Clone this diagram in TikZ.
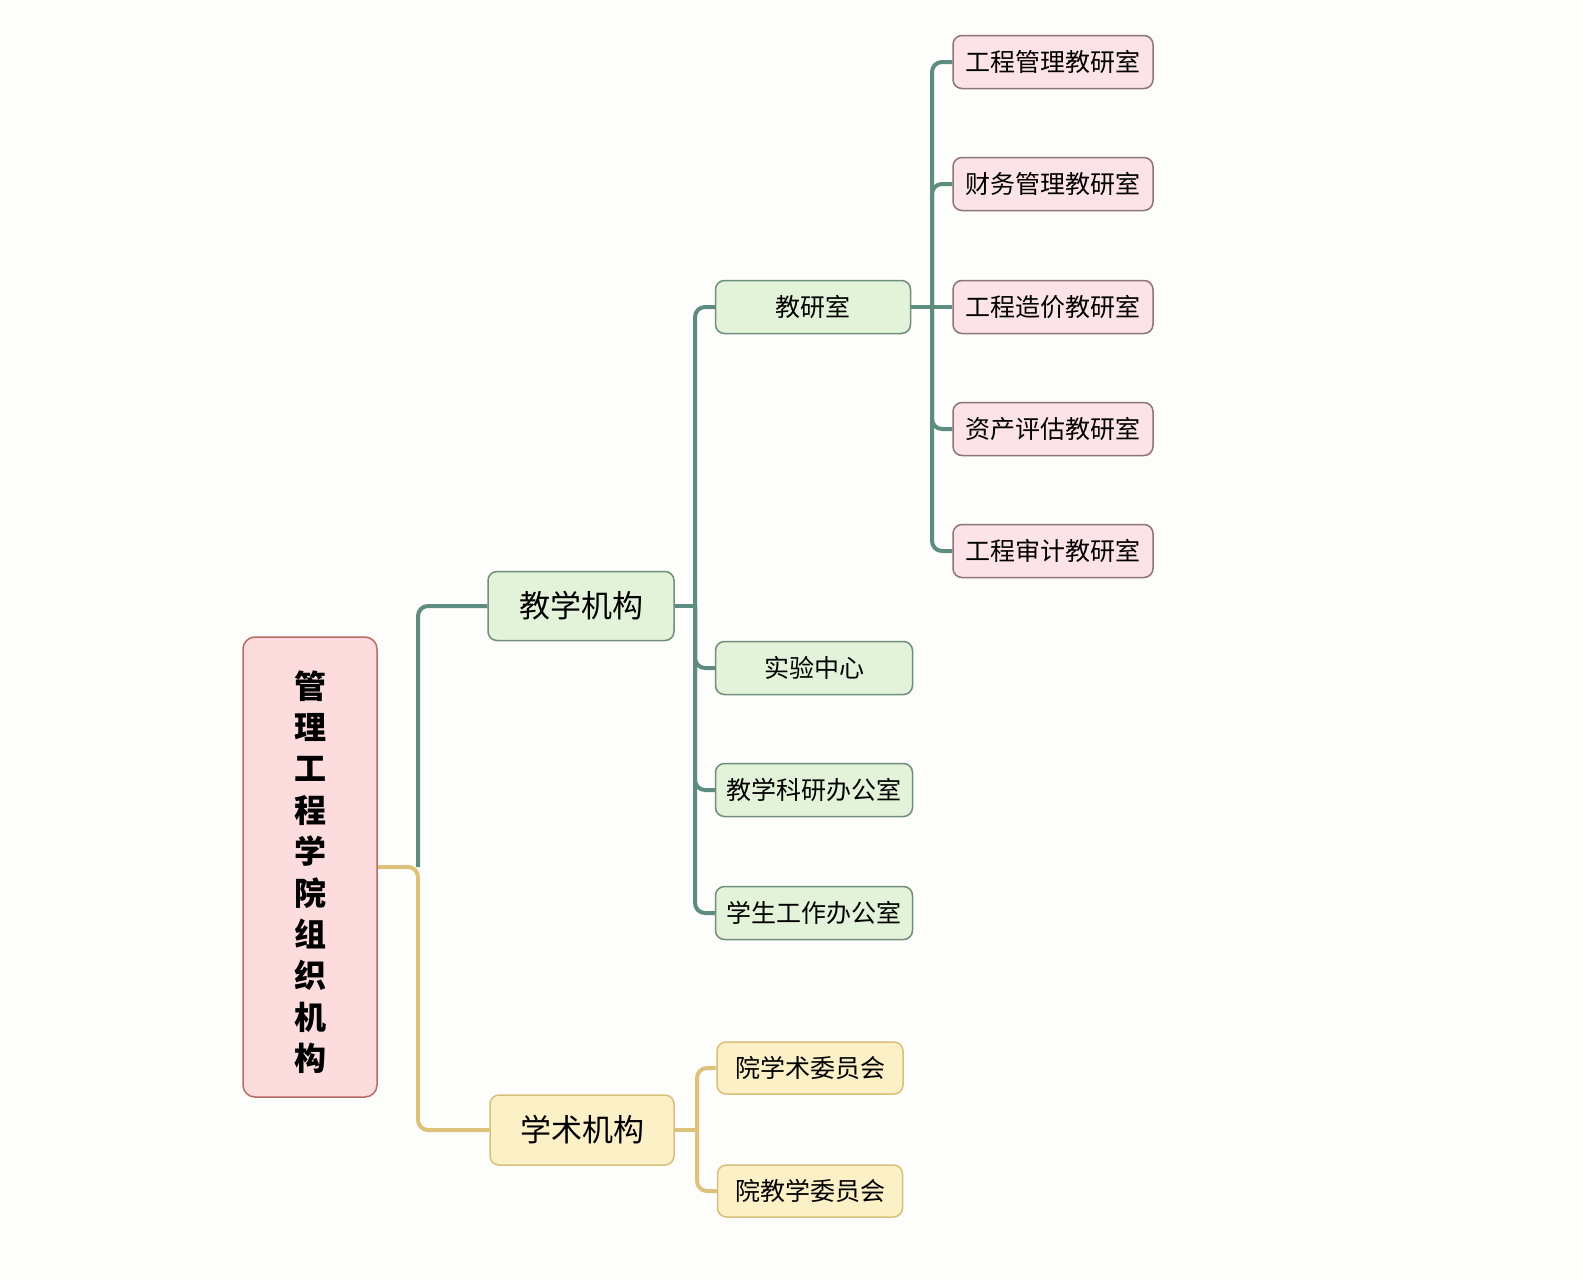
\documentclass[tikz,border=0pt]{standalone}
\usepackage{fontspec}
\setmainfont{Noto Sans CJK SC}
\definecolor{gfill}{HTML}{E3F3DA}
\definecolor{gdraw}{HTML}{6F8E7C}
\definecolor{pfill}{HTML}{FCE3E7}
\definecolor{pdraw}{HTML}{8C7478}
\definecolor{rfill}{HTML}{FCDCDC}
\definecolor{rdraw}{HTML}{B86A66}
\definecolor{yfill}{HTML}{FBF0C6}
\definecolor{ydraw}{HTML}{D8C07C}
\definecolor{gline}{HTML}{5F8C80}
\definecolor{yline}{HTML}{DCC27A}
\definecolor{bg}{HTML}{FDFDFB}
\begin{document}
\begin{tikzpicture}[x=1pt,y=-1pt,
  box/.style={draw, rounded corners=9pt, line width=1.5pt, inner sep=0pt, minimum height=53pt, anchor=center, font=\fontsize{25}{25}\selectfont},
  gbox/.style={box, fill=gfill, draw=gdraw},
  pbox/.style={box, fill=pfill, draw=pdraw, minimum width=200pt},
  ybox/.style={box, fill=yfill, draw=ydraw},
  glink/.style={draw=gline, line width=4pt, rounded corners=10pt},
  ylink/.style={draw=yline, line width=4pt, rounded corners=10pt}]
\fill[bg] (0,0) rectangle (1583,1280);
\useasboundingbox (0,0) rectangle (1583,1280);

\node[box, fill=rfill, draw=rdraw, minimum width=134pt, minimum height=460pt, rounded corners=12pt] (root) at (310,867) {};
\node[align=center, inner sep=0pt, font=\fontsize{32}{41.4}\selectfont\bfseries] (roottext) at (310,872) {管\\理\\工\\程\\学\\院\\组\\织\\机\\构};

\node[gbox, minimum width=186pt, minimum height=69pt, font=\fontsize{31}{31}\selectfont] (A) at (581,606) {教学机构};
\node[ybox, minimum width=184pt, minimum height=70pt, font=\fontsize{31}{31}\selectfont] (B) at (582,1130) {学术机构};

\node[gbox, minimum width=195pt] (JY) at (813,307) {教研室};
\node[gbox, minimum width=197pt] (SY) at (814,668) {实验中心};
\node[gbox, minimum width=197pt] (KY) at (814,790) {教学科研办公室};
\node[gbox, minimum width=197pt] (XS) at (814,913) {学生工作办公室};

\node[pbox] (P1) at (1053,62) {工程管理教研室};
\node[pbox] (P2) at (1053,184) {财务管理教研室};
\node[pbox] (P3) at (1053,307) {工程造价教研室};
\node[pbox] (P4) at (1053,429) {资产评估教研室};
\node[pbox] (P5) at (1053,551) {工程审计教研室};

\node[ybox, minimum width=186pt, minimum height=52pt] (Y1) at (810,1068) {院学术委员会};
\node[ybox, minimum width=185pt, minimum height=52pt] (Y2) at (810,1191) {院教学委员会};

\coordinate (t1) at (418,867);
\coordinate (t2) at (695,606);
\coordinate (t3) at (932,307);
\coordinate (t4) at (697,1130);

\path[glink] (t1) |- (A.west);
\path[ylink] (root.east) -- (t1) |- (B.west);

\path[glink] (A.east) -- (t2);
\path[glink] (t2) |- (JY.west);
\path[glink] (t2) |- (SY.west);
\path[glink] (t2) |- (KY.west);
\path[glink] (t2) |- (XS.west);

\path[glink] (JY.east) -- (t3);
\path[glink] (t3) |- (P1.west);
\path[glink] (t3) |- (P2.west);
\path[glink] (t3) -- (P3.west);
\path[glink] (t3) |- (P4.west);
\path[glink] (t3) |- (P5.west);

\path[ylink] (B.east) -- (t4);
\path[ylink] (t4) |- (Y1.west);
\path[ylink] (t4) |- (Y2.west);
\end{tikzpicture}
\end{document}
